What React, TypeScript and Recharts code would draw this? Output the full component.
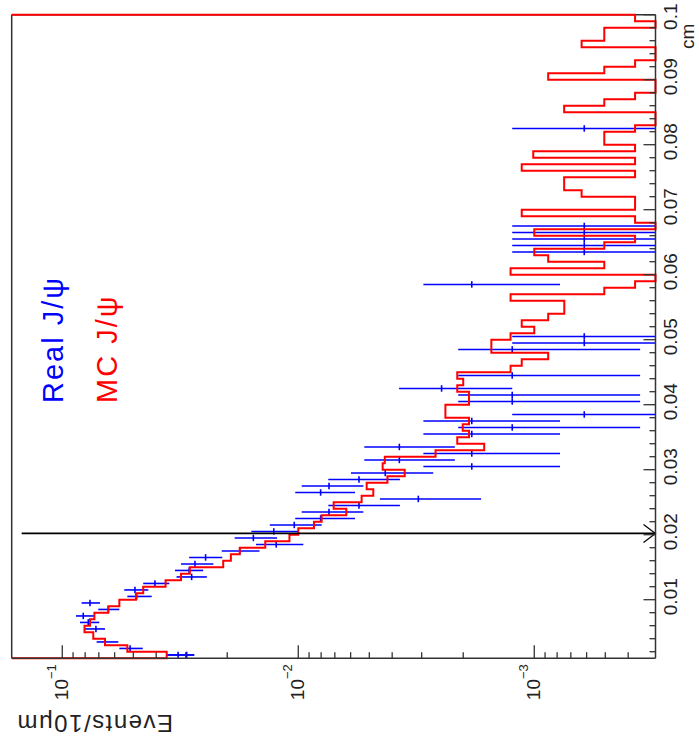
import React from "react";
import { ComposedChart, Line, Scatter, ErrorBar, XAxis, YAxis, ReferenceLine } from "recharts";

// MC J/psi histogram, one value per 10 um bin; first bin starts at 0.001 cm (0 = empty bin)
const mcValues = [
  0.0361, 0.053, 0.0659, 0.0739, 0.0805, 0.0763, 0.0731, 0.0638, 0.0573, 0.0487,
  0.0454, 0.0365, 0.0314, 0.0288, 0.0208, 0.0193, 0.0177, 0.0138, 0.0109, 0.01,
  0.00858, 0.00796, 0.00626, 0.00708, 0.00539, 0.00481, 0.00513, 0.00419, 0.00354, 0.00439,
  0.0043, 0.00262, 0.00163, 0.00212, 0.00189, 0.00201, 0.00189, 0.00238, 0.00238, 0.00189,
  0.00189, 0.00212, 0.002, 0.00212, 0.00126, 0.00113, 0.000873, 0.00152, 0.00152, 0.00126,
  0.001, 0.00113, 0.000873, 0.000746, 0.000746, 0.00126, 0.000505, 0.000374, 0, 0.00126,
  0.000505, 0.000873, 0.001, 0.000505, 0.000374, 0.001, 0, 0.000374, 0.00113, 0.000374,
  0.000374, 0.00063, 0.000747, 0.000747, 0.000374, 0.00113, 0.000374, 0.00101, 0.000374, 0.000505,
  0.000505, 0.000374, 0, 0, 0.000747, 0.000505, 0.000374, 0, 0, 0.000873,
  0.000505, 0.000374, 0, 0, 0.00063, 0.000505, 0.000505, 0, 0.000374,
];

// Real J/psi points (bin centre in cm, value, top and bottom of the error bar; 0 = runs off axis)
const realCm = [
  0.0015, 0.0015, 0.0025, 0.0035, 0.0055, 0.0065, 0.0075, 0.0085, 0.0095, 0.0105,
  0.0115, 0.0125, 0.0135, 0.0145, 0.0155, 0.0165, 0.0175, 0.0185, 0.0195, 0.0205,
  0.0215, 0.0225, 0.0235, 0.0245, 0.0255, 0.0265, 0.0275, 0.0285, 0.0295, 0.0305,
  0.0315, 0.0325, 0.0335, 0.0355, 0.0365, 0.0375, 0.0385, 0.0405, 0.0415, 0.0425,
  0.0445, 0.0485, 0.0495, 0.0505, 0.0585, 0.0635, 0.0645, 0.0655, 0.0665, 0.0675,
  0.0825,
];
const realVal = [
  0.0323, 0.0297, 0.0516, 0.0659, 0.072, 0.0776, 0.0815, 0.0638, 0.0763, 0.0484,
  0.0492, 0.0405, 0.0283, 0.029, 0.0274, 0.0247, 0.0177, 0.0124, 0.0155, 0.0127,
  0.0104, 0.00804, 0.00741, 0.00553, 0.0031, 0.00804, 0.00741, 0.00553, 0.00428, 0.00184,
  0.00373, 0.00184, 0.00373, 0.00184, 0.00124, 0.00184, 0.000614, 0.00124, 0.00124, 0.00247,
  0.00124, 0.00124, 0.000614, 0.000614, 0.00184, 0.000614, 0.000614, 0.000614, 0.000614, 0.000614,
  0.000614,
];
const realUp = [
  0.0361, 0.0361, 0.0573, 0.0715, 0.0807, 0.0841, 0.0875, 0.0704, 0.0828, 0.053,
  0.0546, 0.0454, 0.0328, 0.0333, 0.0314, 0.029, 0.0211, 0.0151, 0.0186, 0.0158,
  0.0132, 0.0103, 0.00967, 0.00746, 0.00451, 0.0103, 0.00967, 0.00746, 0.00598, 0.00295,
  0.00525, 0.00295, 0.00525, 0.00295, 0.0021, 0.00295, 0.00124, 0.0021, 0.0021, 0.00374,
  0.0021, 0.0021, 0.00124, 0.00124, 0.00295, 0.00124, 0.00124, 0.00124, 0.00124, 0.00124,
  0.00124,
];
const realDown = [
  0.0276, 0.0276, 0.0456, 0.0579, 0.0659, 0.0697, 0.0734, 0.0573, 0.0692, 0.0418,
  0.0432, 0.0352, 0.0244, 0.0253, 0.0229, 0.021, 0.0146, 0.00952, 0.0123, 0.01,
  0.00796, 0.00575, 0.0053, 0.00371, 0.00168, 0.00575, 0.0053, 0.00371, 0.00268, 0.000778,
  0.00217, 0.000778, 0.00217, 0.000778, 0.000356, 0.000778, 0, 0.000356, 0.000356, 0.00124,
  0.000356, 0.000356, 0, 0, 0.000778, 0, 0, 0, 0, 0,
  0,
];

const cmTicks = [
  0.002, 0.004, 0.006, 0.008, 0.01, 0.012, 0.014, 0.016, 0.018, 0.02,
  0.022, 0.024, 0.026, 0.028, 0.03, 0.032, 0.034, 0.036, 0.038, 0.04,
  0.042, 0.044, 0.046, 0.048, 0.05, 0.052, 0.054, 0.056, 0.058, 0.06,
  0.062, 0.064, 0.066, 0.068, 0.07, 0.072, 0.074, 0.076, 0.078, 0.08,
  0.082, 0.084, 0.086, 0.088, 0.09, 0.092, 0.094, 0.096, 0.098, 0.1,
];
const cmMajor = [0.01, 0.02, 0.03, 0.04, 0.05, 0.06, 0.07, 0.08, 0.09, 0.1];
const cmLabels = ["0.01", "0.02", "0.03", "0.04", "0.05", "0.06", "0.07", "0.08", "0.09", "0.1"];

const logTicks = [
  0.1, 0.09, 0.08, 0.07, 0.06, 0.05, 0.04, 0.03, 0.02,
  0.01, 0.009, 0.008, 0.007, 0.006, 0.005, 0.004, 0.003, 0.002,
  0.001, 0.0009, 0.0008, 0.0007, 0.0006, 0.0005, 0.0004,
];
const logMajor = [0.1, 0.01, 0.001];
const logExpLabels = ["\u22121", "\u22122", "\u22123"];

const LO = 3.064e-4;
const HI = 0.1638;
const CUT_CM = 0.0202;
const CUT_TOP = 0.1486;

const BLUE = "#0000ff";
const RED = "#ff0000";
const AXIS = "#333333";
const FONT = "'Liberation Sans', Arial, sans-serif";

const mcLine = [
  { x: 0.001, y: HI },
  ...mcValues.map((v, i) => ({ x: (i + 1) / 1000, y: v > 0 ? v : LO })),
  { x: 0.1, y: mcValues[mcValues.length - 1] || LO },
  { x: 0.1, y: HI },
];

const realData = realCm.map((x, i) => ({
  x,
  y: realVal[i],
  ex: 0.0005,
  ey: [realVal[i] - (realDown[i] > 0 ? realDown[i] : LO), realUp[i] - realVal[i]],
}));

function CmTick(props: any) {
  const { x, y, payload } = props;
  const k = cmMajor.findIndex((m) => Math.abs(m - payload.value) < 1e-9);
  const major = k >= 0;
  const last = k === cmMajor.length - 1;
  return (
    <g>
      <line x1={x} y1={y} x2={x} y2={y - (major ? 12 : 6)} stroke={AXIS} strokeWidth={1.3} />
      {major && (
        <text
          x={last ? x - 2 : x + 3}
          y={y + 21.5}
          textAnchor="middle"
          fontSize={19}
          fill="#222"
          fontFamily={FONT}
        >
          {cmLabels[k]}
        </text>
      )}
    </g>
  );
}

function LogTick(props: any) {
  const { x, y, payload } = props;
  const k = logMajor.findIndex((m) => Math.abs(m - payload.value) < 1e-12);
  const major = k >= 0;
  return (
    <g>
      <line x1={x} y1={y} x2={x + (major ? 13 : 6)} y2={y} stroke={AXIS} strokeWidth={1.3} />
      {major && (
        <text x={x - 6} y={y + 6} textAnchor="end" fontSize={19} fill="#222" fontFamily={FONT}>
          10
          <tspan dy={-12} fontSize={13}>
            {logExpLabels[k]}
          </tspan>
        </text>
      )}
    </g>
  );
}

function CutLine(props: any) {
  const { x1, y1, x2, y2 } = props;
  return (
    <g>
      <line x1={x1} y1={y1} x2={x2} y2={y2} stroke="#000" strokeWidth={1.6} />
      <path d={`M${x2 - 9},${y2 - 12} L${x2},${y2} L${x2 + 9},${y2 - 12}`} fill="none" stroke="#000" strokeWidth={1.2} />
    </g>
  );
}

export default function App() {
  return (
    <div style={{ position: "fixed", left: 0, top: 0, width: 699, height: 743, background: "#fff", overflow: "hidden" }}>
      <div
        style={{
          position: "absolute",
          left: 0,
          top: 0,
          width: 743,
          height: 699,
          transformOrigin: "0 0",
          transform: "translate(0px, 743px) rotate(-90deg)",
        }}
      >
        <ComposedChart width={743} height={699} margin={{ top: 11.7, right: 14.7, bottom: 0, left: 0 }} style={{ fontFamily: FONT }}>
          <XAxis
            dataKey="x"
            type="number"
            domain={[0.001, 0.1]}
            ticks={cmTicks}
            interval={0}
            height={43.5}
            tickSize={0}
            tickMargin={0}
            tickLine={false}
            axisLine={{ stroke: AXIS, strokeWidth: 1.5 }}
            tick={(p: any) => <CmTick {...p} />}
          />
          <YAxis
            dataKey="y"
            type="number"
            scale="log"
            domain={[LO, HI]}
            ticks={logTicks}
            interval={0}
            width={84.8}
            tickSize={0}
            tickMargin={0}
            tickLine={false}
            axisLine={{ stroke: AXIS, strokeWidth: 1.5 }}
            tick={(p: any) => <LogTick {...p} />}
          />
          <ReferenceLine y={HI} stroke={AXIS} strokeWidth={1.5} />
          <ReferenceLine x={0.1} stroke={AXIS} strokeWidth={1.5} />
          <Scatter data={realData} isAnimationActive={false} shape={() => <g />}>
            <ErrorBar dataKey="ey" direction="y" width={0} stroke={BLUE} strokeWidth={1.6} isAnimationActive={false} />
            <ErrorBar dataKey="ex" direction="x" width={0} stroke={BLUE} strokeWidth={1.6} isAnimationActive={false} />
          </Scatter>
          <Line
            data={mcLine}
            dataKey="y"
            type="stepAfter"
            stroke={RED}
            strokeWidth={2}
            dot={false}
            activeDot={false}
            isAnimationActive={false}
          />
          <ReferenceLine
            segment={[
              { x: CUT_CM, y: CUT_TOP },
              { x: CUT_CM, y: LO },
            ]}
            shape={(p: any) => <CutLine {...p} />}
          />
        </ComposedChart>
        <svg width={743} height={699} style={{ position: "absolute", left: 0, top: 0, pointerEvents: "none" }} fontFamily={FONT}>
          <text x={340} y={63} fill={BLUE} fontSize={29} letterSpacing={2}>
            Real J/ψ
          </text>
          <text x={340} y={117} fill={RED} fontSize={29} letterSpacing={2}>
            MC J/ψ
          </text>
          <text x={28} y={173} transform="rotate(-90 28 173)" fontSize={24} letterSpacing={1.5} fill="#222">
            Events/10μm
          </text>
          <text x={694} y={694} fontSize={19} fill="#222">
            cm
          </text>
        </svg>
      </div>
    </div>
  );
}
